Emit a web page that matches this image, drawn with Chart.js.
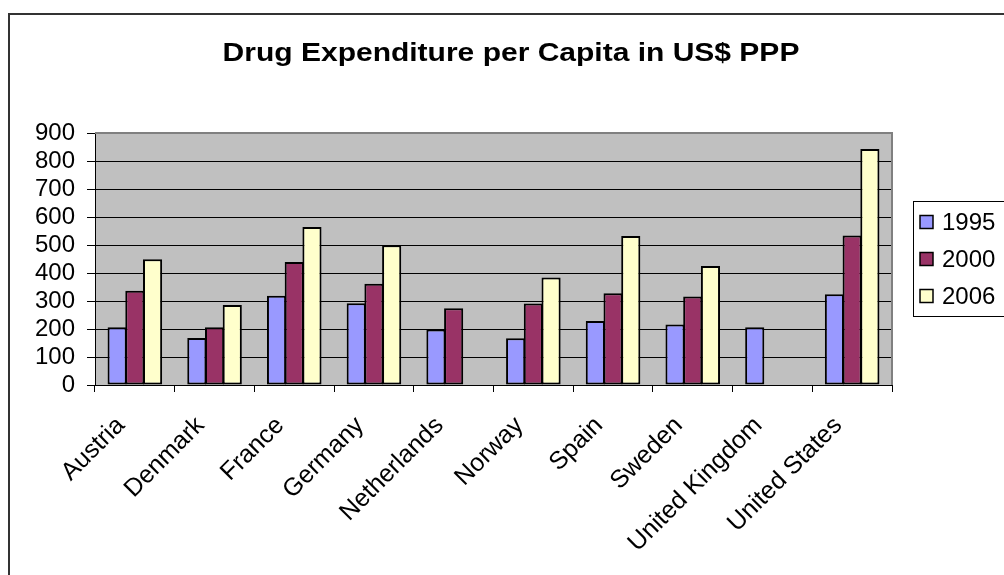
<!DOCTYPE html>
<html>
<head>
<meta charset="utf-8">
<script src="https://cdn.jsdelivr.net/npm/chart.js@4.4.1/dist/chart.umd.min.js"></script>
<style>
  html, body { margin: 0; padding: 0; background: #ffffff; }
  #wrap { position: relative; width: 1004px; height: 575px; }
</style>
</head>
<body>
<div id="wrap"><canvas id="c"></canvas></div>
<script>
const chartTitle = 'Drug Expenditure per Capita in US$ PPP';
const countries = ['Austria', 'Denmark', 'France', 'Germany', 'Netherlands', 'Norway', 'Spain', 'Sweden', 'United Kingdom', 'United States'];
const seriesNames = ['1995', '2000', '2006'];
const values1995 = [206, 168, 319, 292, 198, 167, 229, 216, 206, 324];
const values2000 = [337, 206, 439, 362, 274, 291, 328, 316, null, 534];
const values2006 = [449, 286, 564, 499, null, 384, 532, 425, null, 843];
const seriesColors = ['#9999FF', '#993366', '#FFFFCC'];
const yTicks = [0, 100, 200, 300, 400, 500, 600, 700, 800, 900];

const FONT = "'Liberation Sans', Arial, sans-serif";

const decorPlugin = {
  id: 'decor',
  beforeDraw(chart) {
    const ctx = chart.ctx;
    const a = chart.chartArea;
    ctx.save();
    ctx.fillStyle = '#ffffff';
    ctx.fillRect(0, 0, chart.width, chart.height);
    // outer chart border
    ctx.strokeStyle = '#333333';
    ctx.lineWidth = 2;
    ctx.strokeRect(9, 14, chart.width + 20, chart.height + 20);
    // plot area
    ctx.fillStyle = '#C0C0C0';
    ctx.fillRect(a.left, a.top, a.right - a.left, a.bottom - a.top);
    // title
    ctx.fillStyle = '#000000';
    ctx.font = 'bold 25px ' + FONT;
    ctx.textAlign = 'center';
    ctx.textBaseline = 'middle';
    ctx.translate(511, 54);
    ctx.scale(1.2, 1);
    ctx.fillText(chartTitle, 0, 0);
    ctx.restore();
  },
  beforeDatasetsDraw(chart) {
    const ctx = chart.ctx;
    const a = chart.chartArea;
    ctx.save();
    ctx.strokeStyle = '#808080';
    ctx.lineWidth = 2;
    ctx.beginPath();
    ctx.moveTo(a.left, a.top);
    ctx.lineTo(a.right, a.top);
    ctx.lineTo(a.right, a.bottom);
    ctx.stroke();
    ctx.restore();
  },
  afterDraw(chart) {
    const ctx = chart.ctx;
    ctx.save();
    // legend box
    ctx.fillStyle = '#ffffff';
    ctx.fillRect(913.5, 201.5, 100, 115);
    ctx.strokeStyle = '#000000';
    ctx.lineWidth = 1;
    ctx.strokeRect(913.5, 201.5, 100, 115);
    const ys = [222, 259, 296];
    chart.data.datasets.forEach((ds, i) => {
      const y = ys[i];
      ctx.fillStyle = ds.backgroundColor;
      ctx.fillRect(920, y - 6.5, 13, 13);
      ctx.strokeStyle = '#000000';
      ctx.lineWidth = 1.5;
      ctx.strokeRect(920, y - 6.5, 13, 13);
      ctx.fillStyle = '#000000';
      ctx.font = '24px ' + FONT;
      ctx.textAlign = 'left';
      ctx.textBaseline = 'middle';
      ctx.fillText(ds.label, 942, y + 1);
    });
    ctx.restore();
  }
};

const seriesValues = [values1995, values2000, values2006];
const datasets = seriesNames.map((name, i) => ({
  label: name,
  data: seriesValues[i],
  backgroundColor: seriesColors[i],
  borderColor: '#000000',
  borderWidth: 2,
  borderSkipped: false,
  categoryPercentage: 0.667,
  barPercentage: 1.08
}));

new Chart(document.getElementById('c'), {
  type: 'bar',
  data: { labels: countries, datasets: datasets },
  options: {
    responsive: true,
    maintainAspectRatio: false,
    animation: false,
    devicePixelRatio: 1,
    layout: { padding: { top: 133, right: 112, left: 0, bottom: 0 } },
    plugins: {
      legend: { display: false },
      title: { display: false },
      tooltip: { enabled: false }
    },
    scales: {
      x: {
        grid: { drawOnChartArea: false, drawTicks: true, tickLength: 7, color: '#000000', offset: true },
        border: { display: true, color: '#000000', width: 1 },
        ticks: {
          autoSkip: false,
          minRotation: 45,
          maxRotation: 45,
          padding: 19,
          labelOffset: -14,
          color: '#000000',
          font: { family: FONT, size: 25 }
        },
        afterFit(scale) { scale.height = 190; }
      },
      y: {
        min: 0,
        max: 900,
        afterBuildTicks(scale) { scale.ticks = yTicks.map(v => ({ value: v })); },
        grid: { color: '#000000', lineWidth: 1, drawTicks: true, tickLength: 8 },
        border: { display: true, color: '#000000', width: 1 },
        ticks: {
          autoSkip: false,
          padding: 12,
          color: '#000000',
          font: { family: FONT, size: 24, lineHeight: 1 }
        },
        afterFit(scale) { scale.width = 95; }
      }
    }
  },
  plugins: [decorPlugin]
});
</script>
</body>
</html>
